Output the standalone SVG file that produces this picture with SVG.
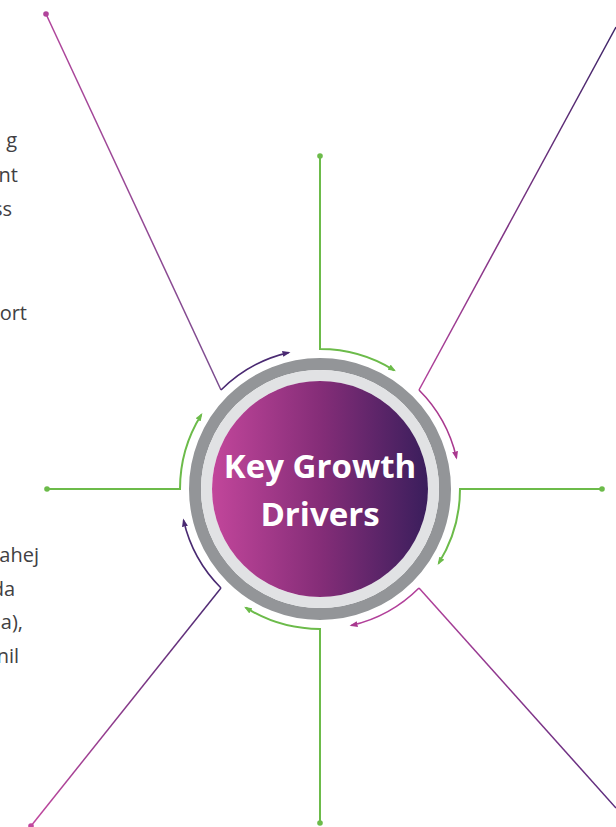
<svg xmlns="http://www.w3.org/2000/svg" width="616" height="827" viewBox="0 0 616 827">
<style>
.frag{font-family:"Open Sans","Liberation Sans",sans-serif;font-size:20px;fill:#414042;text-anchor:end}
.title{font-family:"Open Sans","Liberation Sans",sans-serif;font-weight:700;font-size:33px;fill:#ffffff;text-anchor:middle}
.g{fill:none;stroke:#6cbb4a;stroke-width:2}
.arc{fill:none;stroke-width:1.6}
.ln{fill:none;stroke-width:1.5}
</style>
<defs>
<linearGradient id="core" x1="0" y1="0" x2="1" y2="0">
<stop offset="0" stop-color="#c2469b"/>
<stop offset="0.5" stop-color="#852d78"/>
<stop offset="1" stop-color="#3a1e5c"/>
</linearGradient>
<linearGradient id="gTL" gradientUnits="userSpaceOnUse" x1="46" y1="14" x2="221" y2="390">
<stop offset="0" stop-color="#b1449b"/><stop offset="1" stop-color="#7a4c8e"/>
</linearGradient>
<linearGradient id="gTR" gradientUnits="userSpaceOnUse" x1="616" y1="27" x2="419" y2="390">
<stop offset="0" stop-color="#3d2468"/><stop offset="1" stop-color="#b2409a"/>
</linearGradient>
<linearGradient id="gBR" gradientUnits="userSpaceOnUse" x1="419" y1="588" x2="616" y2="808">
<stop offset="0" stop-color="#b2409a"/><stop offset="1" stop-color="#5a2c7c"/>
</linearGradient>
<linearGradient id="gBL" gradientUnits="userSpaceOnUse" x1="221" y1="588" x2="31" y2="826">
<stop offset="0" stop-color="#4a2a72"/><stop offset="1" stop-color="#c2489f"/>
</linearGradient>
<marker id="mG" viewBox="0 0 8 6" refX="6" refY="3" markerWidth="8" markerHeight="6" markerUnits="userSpaceOnUse" orient="auto"><path d="M0,0 L8,3 L0,6 Z" fill="#6cbb4a"/></marker>
<marker id="mP" viewBox="0 0 8 6" refX="6" refY="3" markerWidth="8" markerHeight="6" markerUnits="userSpaceOnUse" orient="auto"><path d="M0,0 L8,3 L0,6 Z" fill="#4a2a72"/></marker>
<marker id="mM" viewBox="0 0 8 6" refX="6" refY="3" markerWidth="8" markerHeight="6" markerUnits="userSpaceOnUse" orient="auto"><path d="M0,0 L8,3 L0,6 Z" fill="#a9398f"/></marker>
</defs>

<g id="fragments">
<text class="frag" x="17" y="147">g</text>
<text class="frag" x="18" y="182">nt</text>
<text class="frag" x="12" y="216">ss</text>
<text class="frag" x="27" y="320">ort</text>
<text class="frag" x="39" y="562">ahej</text>
<text class="frag" x="15" y="596">da</text>
<text class="frag" x="23" y="629">a),</text>
<text class="frag" x="19" y="663">nil</text>
</g>

<g id="connectors">
<path class="g" d="M320,156 V349 A140,140 0 0 1 394.2,370.3" marker-end="url(#mG)"/>
<path class="g" d="M602,489 H460 A140,140 0 0 1 438.7,563.2" marker-end="url(#mG)"/>
<path class="g" d="M320,823 V629 A140,140 0 0 1 245.8,607.7" marker-end="url(#mG)"/>
<path class="g" d="M47,489 H180 A140,140 0 0 1 201.3,414.8" marker-end="url(#mG)"/>
<circle cx="320" cy="156" r="2.8" fill="#6cbb4a"/>
<circle cx="602" cy="489" r="2.8" fill="#6cbb4a"/>
<circle cx="320" cy="823" r="2.8" fill="#6cbb4a"/>
<circle cx="47" cy="489" r="2.8" fill="#6cbb4a"/>

<line class="ln" x1="46" y1="14" x2="221" y2="390" stroke="url(#gTL)"/>
<path class="arc" d="M221,390 A140,140 0 0 1 288.5,352.6" stroke="#4a2a72" marker-end="url(#mP)"/>
<circle cx="46" cy="14" r="2.8" fill="#b1449b"/>

<line class="ln" x1="616" y1="27" x2="419" y2="390" stroke="url(#gTR)"/>
<path class="arc" d="M419,390 A140,140 0 0 1 456.4,457.5" stroke="#a9398f" marker-end="url(#mM)"/>

<line class="ln" x1="419" y1="588" x2="616" y2="808" stroke="url(#gBR)"/>
<path class="arc" d="M419,588 A140,140 0 0 1 351.5,625.4" stroke="#b2409a" marker-end="url(#mM)"/>

<line class="ln" x1="221" y1="588" x2="31" y2="826" stroke="url(#gBL)"/>
<path class="arc" d="M221,588 A140,140 0 0 1 183.6,520.5" stroke="#4a2a72" marker-end="url(#mP)"/>
<circle cx="31" cy="826" r="2.8" fill="#c2489f"/>
</g>

<g id="hub">
<circle cx="320" cy="489" r="125" fill="none" stroke="#939598" stroke-width="12"/>
<circle cx="320" cy="489" r="113.5" fill="none" stroke="#e1e2e4" stroke-width="11"/>
<circle cx="320" cy="489" r="108" fill="url(#core)"/>
<text class="title" x="320" y="478">Key Growth</text>
<text class="title" x="320" y="526">Drivers</text>
</g>
</svg>
